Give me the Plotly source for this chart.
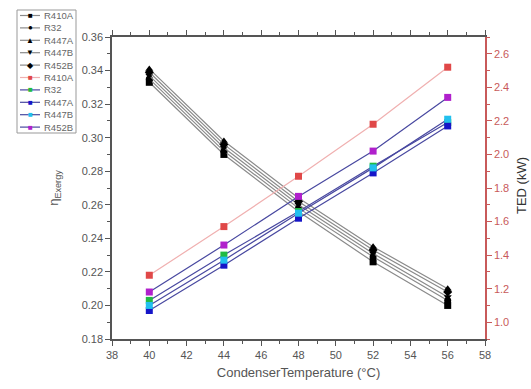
import plotly.graph_objects as go

temps = [40, 44, 48, 52, 56]

# Exergy efficiency (left axis)
eta_R410A = [0.333, 0.290, 0.256, 0.226, 0.200]
eta_R32   = [0.335, 0.292, 0.258, 0.229, 0.203]
eta_R447A = [0.341, 0.298, 0.264, 0.235, 0.210]
eta_R447B = [0.337, 0.294, 0.260, 0.231, 0.205]
eta_R452B = [0.339, 0.296, 0.262, 0.233, 0.208]

# TED (right axis, kW)
ted_R410A = [1.28, 1.57, 1.87, 2.18, 2.52]
ted_R32   = [1.13, 1.40, 1.66, 1.93, 2.19]
ted_R447A = [1.07, 1.34, 1.62, 1.89, 2.17]
ted_R447B = [1.10, 1.37, 1.65, 1.92, 2.21]
ted_R452B = [1.18, 1.46, 1.75, 2.02, 2.34]

names = ["R410A", "R32", "R447A", "R447B", "R452B"]
symbols = ["square", "circle", "triangle-up", "triangle-down", "diamond"]
glyphs = ["■", "●", "▲", "▼", "◆"]
eta_series = [eta_R410A, eta_R32, eta_R447A, eta_R447B, eta_R452B]
ted_series = [ted_R410A, ted_R32, ted_R447A, ted_R447B, ted_R452B]
ted_marker_colors = ["#e04848", "#22bb44", "#1515c8", "#22c0ee", "#b020cc"]
ted_line_colors = ["#f0b0b0", "#4848a0", "#4848a0", "#4848a0", "#4848a0"]
eta_line_color = "#8a8a8a"

fig = go.Figure()
for n, s, y in zip(names, symbols, eta_series):
    fig.add_trace(go.Scatter(x=temps, y=y, name=n, mode="lines+markers",
                             line=dict(color=eta_line_color, width=1.2),
                             marker=dict(symbol=s, color="black", size=7),
                             yaxis="y", showlegend=False))
for n, y, mc, lc in zip(names, ted_series, ted_marker_colors, ted_line_colors):
    fig.add_trace(go.Scatter(x=temps, y=y, name=n, mode="lines+markers",
                             line=dict(color=lc, width=1.2),
                             marker=dict(symbol="square", color=mc, size=7),
                             yaxis="y2", showlegend=False))

W, H = 531, 389
L, R, T, B = 112, 46, 37, 50
PW, PH = W - L - R, H - T - B


def px(x):
    return (x - L) / PW


def py(y):
    return (H - B - y) / PH


# Compact legend box (drawn in paper coordinates)
shapes = [dict(type="rect", xref="paper", yref="paper",
               x0=px(17), x1=px(76), y0=py(133), y1=py(10),
               line=dict(color="#999999", width=1), fillcolor="white", layer="above")]
annotations = []
entries = []
for n, g in zip(names, glyphs):
    entries.append((n, g, "black", eta_line_color))
for n, mc, lc in zip(names, ted_marker_colors, ted_line_colors):
    entries.append((n, "■", mc, lc))
for i, (n, g, mc, lc) in enumerate(entries):
    yy = 15.5 + i * 12.4
    shapes.append(dict(type="line", xref="paper", yref="paper",
                       x0=px(20), x1=px(40), y0=py(yy), y1=py(yy),
                       line=dict(color=lc, width=1.2), layer="above"))
    annotations.append(dict(xref="paper", yref="paper", x=px(30), y=py(yy),
                            text=g, showarrow=False, xanchor="center", yanchor="middle",
                            font=dict(size=8, color=mc)))
    annotations.append(dict(xref="paper", yref="paper", x=px(42), y=py(yy),
                            text=n, showarrow=False, xanchor="left", yanchor="middle",
                            font=dict(size=9.5, color="#666666")))

annotations.append(dict(xref="paper", yref="paper", x=px(521), y=py(186),
                        text="TED (kW)", showarrow=False, textangle=-90,
                        xanchor="center", yanchor="middle",
                        font=dict(size=13, color="#333333")))

axis_color = "#555555"
red = "#c85a5a"
fig.update_layout(
    width=W, height=H,
    margin=dict(l=L, r=R, t=T, b=B, autoexpand=False),
    paper_bgcolor="white", plot_bgcolor="white",
    font=dict(family="Liberation Sans, Arial, sans-serif", size=12, color=axis_color),
    showlegend=False,
    shapes=shapes,
    annotations=annotations,
    xaxis=dict(range=[38, 58], dtick=2, showgrid=False, zeroline=False,
               showline=True, linecolor=axis_color, linewidth=1.5,
               ticks="outside", ticklen=5, tickcolor=axis_color,
               mirror="ticks",
               minor=dict(dtick=1, ticks="outside", ticklen=3, tickcolor=axis_color),
               title=dict(text="CondenserTemperature (°C)", font=dict(size=13), standoff=8),
               tickfont=dict(size=11)),
    yaxis=dict(range=[0.18, 0.36], dtick=0.02, tickformat=".2f", showgrid=False, zeroline=False,
               showline=True, linecolor=axis_color, linewidth=1.5,
               ticks="outside", ticklen=5, tickcolor=axis_color,
               minor=dict(dtick=0.01, ticks="outside", ticklen=3, tickcolor=axis_color),
               title=dict(text="η<sub>Exergy</sub>", font=dict(size=13), standoff=20),
               tickfont=dict(size=11)),
    yaxis2=dict(range=[0.9, 2.7], dtick=0.2, tickformat=".1f", overlaying="y", side="right",
                showgrid=False, zeroline=False,
                showline=True, linecolor=red, linewidth=1.5,
                ticks="outside", ticklen=5, tickcolor=red,
                minor=dict(dtick=0.1, ticks="outside", ticklen=3, tickcolor=red),
                tickfont=dict(size=11, color=red)),
)

fig.write_html(
    "out.html",
    config={"displayModeBar": False},
    post_script=("document.documentElement.style.overflow='hidden';"
                 "document.body.style.overflow='hidden';"
                 "document.body.style.margin='0';"),
)
